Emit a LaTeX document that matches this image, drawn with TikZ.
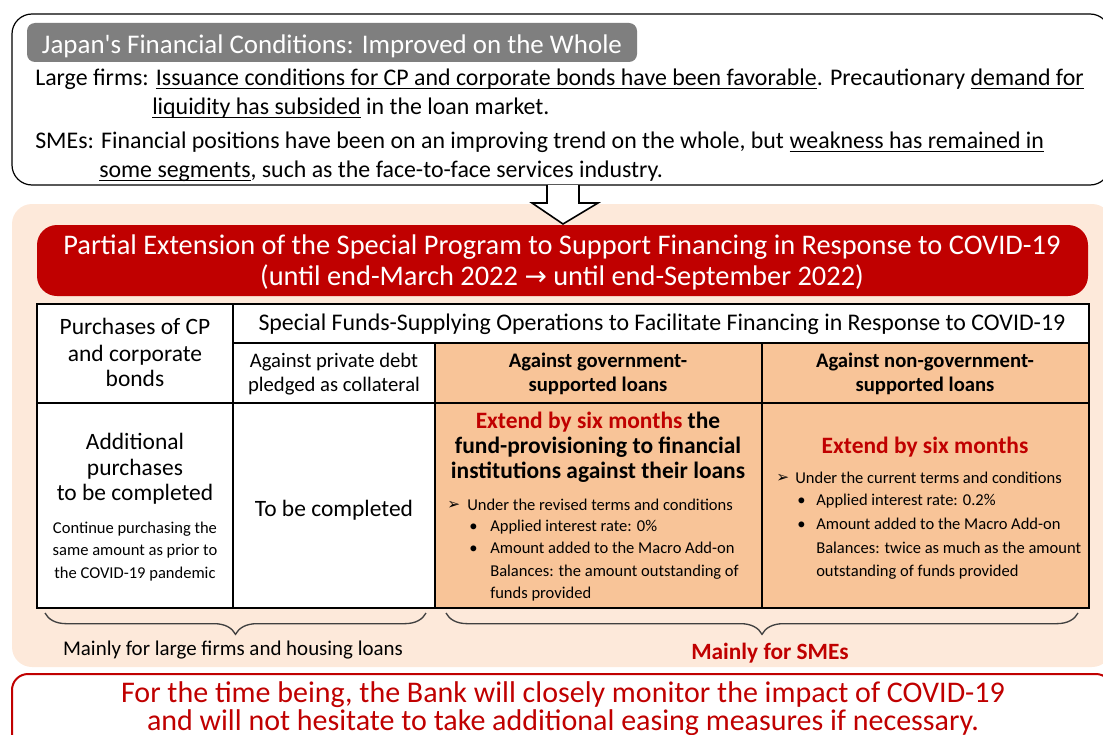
\documentclass[tikz,border=0pt]{standalone}
\usepackage{fontspec}
\setmainfont{Carlito}[Ligatures=TeXOff]
\newfontfamily\symfont{DejaVu Sans}
\usetikzlibrary{decorations.pathreplacing}

\definecolor{tabgray}{RGB}{127,127,127}
\definecolor{peach}{RGB}{253,233,218}
\definecolor{bojred}{RGB}{192,0,0}
\definecolor{cellorange}{RGB}{248,196,152}
\definecolor{bracegray}{RGB}{64,64,64}

% font sizes
\newcommand\fTab{\fontsize{20.2}{24}\selectfont}
\newcommand\fTop{\fontsize{17.9}{21}\selectfont}
\newcommand\fBody{\fontsize{17.6}{21}\selectfont}
\newcommand\fSub{\fontsize{15.5}{19}\selectfont}
\newcommand\fSmall{\fontsize{12.4}{15}\selectfont}
\newcommand\fBan{\fontsize{21.3}{25}\selectfont}
\newcommand\fBot{\fontsize{22.5}{27}\selectfont}
\newcommand\fHead{\fontsize{17.6}{21}\selectfont\bfseries}
\newcommand\fBrace{\fontsize{15.7}{19}\selectfont}
\newcommand\pointer{{\symfont\fontsize{11.5}{13}\selectfont ➢}}
% underline at a fixed depth below the baseline
\newsavebox\undlbox
\newcommand\undl[1]{\sbox\undlbox{#1}\rlap{\rule[-3pt]{\wd\undlbox}{0.9pt}}\usebox\undlbox}

\tikzset{
  txt/.style={inner sep=0pt, anchor=base},
  txtl/.style={inner sep=0pt, anchor=base west},
  tbl/.style={line width=1.1pt, black},
  curly/.style={bracegray, line width=1pt, decorate,
                decoration={brace, mirror, amplitude=16pt}},
}

\begin{document}
\begin{tikzpicture}[x=0.75pt, y=-0.75pt]
\useasboundingbox (0,0) rectangle (1103,735);
\clip (0,0) rectangle (1103,735);

% ---- summary of financial conditions ----
\draw[line width=0.9pt, fill=white, rounded corners=15pt] (12,14) rectangle (1110,185);
\fill[tabgray, rounded corners=6pt] (27,23) rectangle (637,62);
\node[txt, text=white, font=\fTab] (tabtext) at (332,54)
  {Japan's Financial Conditions: Improved on the Whole};

\node[txtl, font=\fTop] (large1) at (35,85)
  {Large firms: \undl{Issuance conditions for CP and corporate bonds have been favorable}. Precautionary \undl{demand for}};
\node[txtl, font=\fTop] (large2) at (152,114)
  {\undl{liquidity has subsided} in the loan market.};
\node[txtl, font=\fTop] (sme1) at (35,148)
  {SMEs: Financial positions have been on an improving trend on the whole, but \undl{weakness has remained in}};
\node[txtl, font=\fTop] (sme2) at (99,177)
  {\undl{some segments}, such as the face-to-face services industry.};

% ---- program panel ----
\fill[peach, rounded corners=15pt] (12,204) rectangle (1112,667);
\fill[bojred, rounded corners=15pt] (37,225) rectangle (1088,296);
\node[txt, text=white, font=\fBan] (ban1) at (562,254)
  {Partial Extension of the Special Program to Support Financing in Response to COVID-19};
\node[txt, text=white, font=\fBan] (ban2) at (562,285)
  {(until end-March 2022 {\symfont\fontsize{20}{24}\selectfont →} until end-September 2022)};

% block arrow from the summary to the program
\draw[line width=1.2pt, fill=white, line join=miter]
  (547,185) -- (547,203) -- (532,203) -- (563,224) -- (598,203) -- (579,203) -- (579,185);

% ---- table ----
\fill[white] (37,304) rectangle (1089,608);
\fill[cellorange] (435,343) rectangle (1089,608);
\draw[tbl] (37,304) rectangle (1089,608);
\draw[tbl] (233,343) -- (1089,343);
\draw[tbl] (37,403) -- (1089,403);
\draw[tbl] (435,343) -- (435,608);
\draw[tbl] (762,343) -- (762,608);
\draw[tbl, line width=2.2pt] (233,304) -- (233,608);

% header cells
\node[txt, font=\fBody] (h1a) at (135,334) {Purchases of CP};
\node[txt, font=\fBody] (h1b) at (135,361) {and corporate};
\node[txt, font=\fBody] (h1c) at (135,386) {bonds};
\node[txt, font=\fTop] (h2) at (662,330)
  {Special Funds-Supplying Operations to Facilitate Financing in Response to COVID-19};
\node[txt, font=\fSub] (h3a) at (334,367) {Against private debt};
\node[txt, font=\fSub] (h3b) at (334,391) {pledged as collateral};
\node[txt, font=\fSub\bfseries] (h4a) at (598,367) {Against government-};
\node[txt, font=\fSub\bfseries] (h4b) at (598,391) {supported loans};
\node[txt, font=\fSub\bfseries] (h5a) at (925,367) {Against non-government-};
\node[txt, font=\fSub\bfseries] (h5b) at (925,391) {supported loans};

% purchases of CP and corporate bonds
\node[txt, font=\fBody] (c1a) at (135,449) {Additional};
\node[txt, font=\fBody] (c1b) at (135,475) {purchases};
\node[txt, font=\fBody] (c1c) at (135,500) {to be completed};
\node[txt, font=\fSmall] (c1d) at (135,533) {Continue purchasing the};
\node[txt, font=\fSmall] (c1e) at (135,555) {same amount as prior to};
\node[txt, font=\fSmall] (c1f) at (135,578) {the COVID-19 pandemic};

% against private debt
\node[txt, font=\fBody] (c2) at (334,516) {To be completed};

% against government-supported loans
\node[txt, font=\fHead] (c3a) at (598,428) {\textcolor{bojred}{Extend by six months} the};
\node[txt, font=\fHead] (c3b) at (598,453) {fund-provisioning to financial};
\node[txt, font=\fHead] (c3c) at (598,478) {institutions against their loans};
\node[txtl] (c3p) at (447,509) {\pointer};
\node[txtl, font=\fSmall] (c3d) at (467,510) {Under the revised terms and conditions};
\node[txtl, font=\fSmall] (c3e) at (469,531) {•};
\node[txtl, font=\fSmall] (c3f) at (490,531) {Applied interest rate: 0\%};
\node[txtl, font=\fSmall] (c3g) at (469,553) {•};
\node[txtl, font=\fSmall] (c3h) at (490,553) {Amount added to the Macro Add-on};
\node[txtl, font=\fSmall] (c3i) at (490,576) {Balances: the amount outstanding of};
\node[txtl, font=\fSmall] (c3j) at (490,598) {funds provided};

% against non-government-supported loans
\node[txt, font=\fHead, text=bojred] (c4a) at (925,453) {Extend by six months};
\node[txtl] (c4p) at (776,482) {\pointer};
\node[txtl, font=\fSmall] (c4d) at (795,483) {Under the current terms and conditions};
\node[txtl, font=\fSmall] (c4e) at (797,505) {•};
\node[txtl, font=\fSmall] (c4f) at (816,505) {Applied interest rate: 0.2\%};
\node[txtl, font=\fSmall] (c4g) at (797,529) {•};
\node[txtl, font=\fSmall] (c4h) at (816,529) {Amount added to the Macro Add-on};
\node[txtl, font=\fSmall] (c4i) at (816,553) {Balances: twice as much as the amount};
\node[txtl, font=\fSmall] (c4j) at (816,576) {outstanding of funds provided};

% braces under the table
\coordinate (b1s) at (45,613);
\coordinate (b1e) at (426,613);
\coordinate (b2s) at (446,613);
\coordinate (b2e) at (1078,613);
\draw[curly] (b1s) -- (b1e);
\draw[curly] (b2s) -- (b2e);
\node[txt, font=\fBrace] (large) at (233,655) {Mainly for large firms and housing loans};
\node[txt, font=\fontsize{17.5}{21}\selectfont\bfseries, text=bojred] (smes) at (770,659) {Mainly for SMEs};

% ---- closing statement ----
\draw[bojred, line width=1.5pt, fill=white, rounded corners=12pt] (12,674) rectangle (1112,775);
\node[txt, font=\fBot, text=bojred] (bot1) at (563,702)
  {For the time being, the Bank will closely monitor the impact of COVID-19};
\node[txt, font=\fBot, text=bojred] (bot2) at (563,730)
  {and will not hesitate to take additional easing measures if necessary.};
\end{tikzpicture}
\end{document}
